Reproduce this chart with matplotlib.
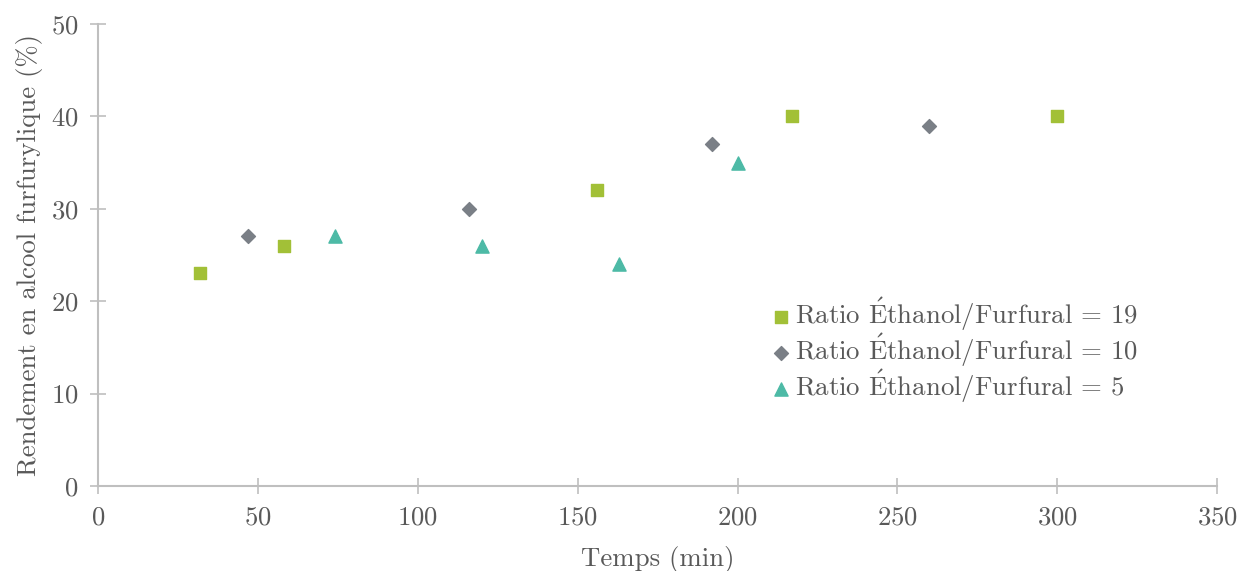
import matplotlib.pyplot as plt

plt.rcParams['font.family'] = ['cmr10', 'DejaVu Serif']
plt.rcParams['mathtext.fontset'] = 'cm'
plt.rcParams['axes.formatter.use_mathtext'] = True

# Ratio Ethanol/Furfural = 19
t19 = [32, 58, 156, 217, 300]
y19 = [23, 26, 32, 40, 40]
# Ratio = 10
t10 = [47, 116, 192, 260]
y10 = [27, 30, 37, 39]
# Ratio = 5
t5 = [74, 120, 163, 200]
y5 = [27, 26, 24, 35]

labels = [r'Ratio $\acute{\mathrm{E}}$thanol/Furfural = 19',
          r'Ratio $\acute{\mathrm{E}}$thanol/Furfural = 10',
          r'Ratio $\acute{\mathrm{E}}$thanol/Furfural = 5']

txt = '#595959'
axcol = '#bfbfbf'
fs = 19.3

fig = plt.figure(figsize=(12.38, 5.71), dpi=100)
ax = fig.add_axes([0.0792, 0.149, 0.904, 0.809])

ax.scatter(t19, y19, marker='s', s=75, color='#a2c037', label=labels[0], zorder=3)
ax.scatter(t10, y10, marker='D', s=50, color='#7a7f86', label=labels[1], zorder=3)
ax.scatter(t5, y5, marker='^', s=90, color='#4dbaa6', label=labels[2], zorder=3)

ax.set_xlim(0, 350)
ax.set_ylim(0, 50)
ax.set_xticks(range(0, 351, 50))
ax.set_yticks(range(0, 51, 10))

for s in ['top', 'right']:
    ax.spines[s].set_visible(False)
for s in ['left', 'bottom']:
    ax.spines[s].set_color(axcol)
    ax.spines[s].set_linewidth(1.5)

ax.tick_params(direction='inout', length=12, width=1.2, color=axcol,
               labelcolor=txt, labelsize=fs, pad=8)

ax.set_xlabel('Temps (min)', fontsize=fs, color=txt, labelpad=12)
ax.set_ylabel('Rendement en alcool furfurylique (%)', fontsize=fs, color=txt, labelpad=6)

leg = ax.legend(loc='upper left', bbox_to_anchor=(0.589, 0.435), frameon=False,
                fontsize=fs, handletextpad=0.0, handlelength=1.0,
                labelspacing=-0.06, borderaxespad=0)
for t in leg.get_texts():
    t.set_color(txt)

fig.savefig('out.png', dpi=100)
